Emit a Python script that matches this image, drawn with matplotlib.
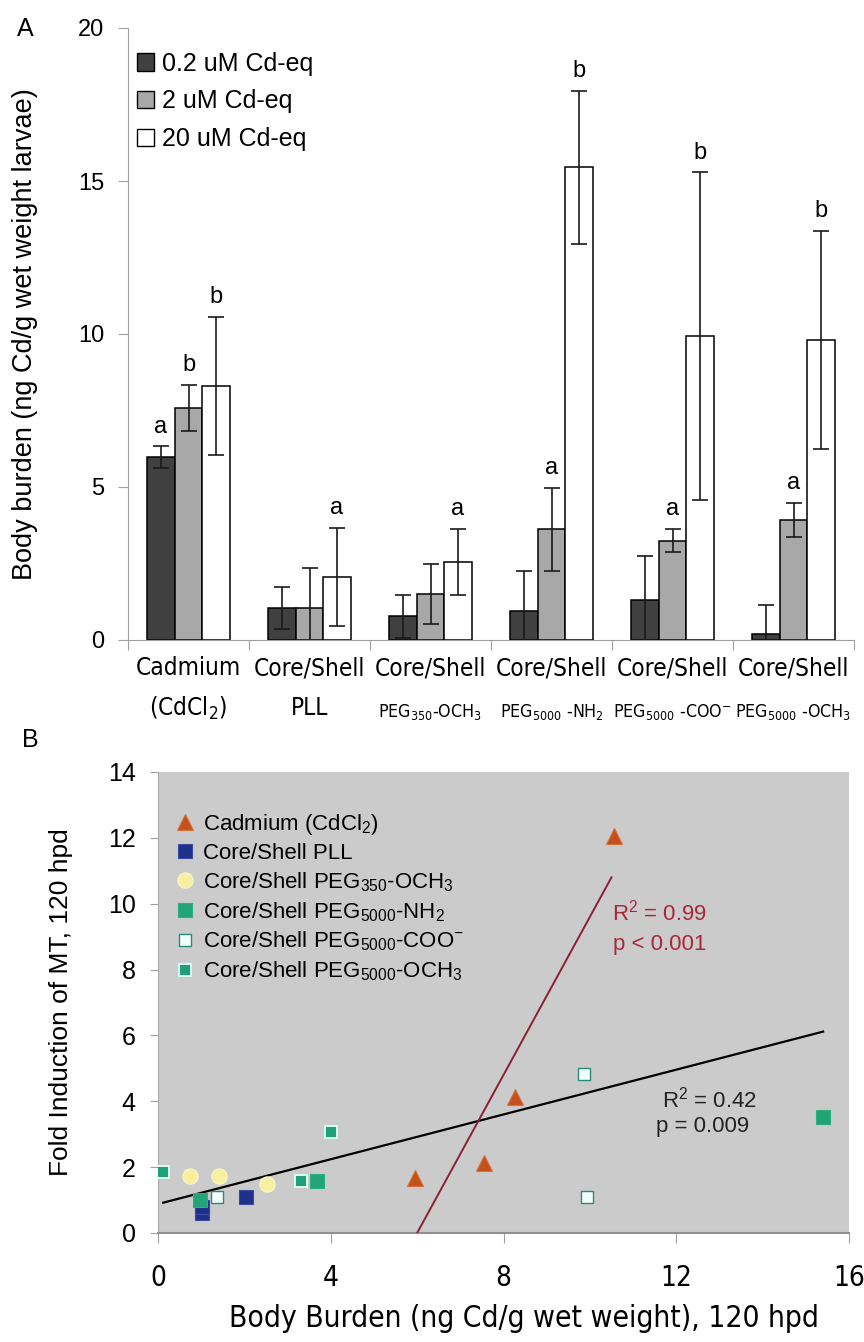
import numpy as np
import matplotlib
matplotlib.use('Agg')
import matplotlib.pyplot as plt
from matplotlib import font_manager, transforms
from matplotlib.patches import Patch

names = {f.name for f in font_manager.fontManager.ttflist}
main_font = 'Liberation Sans' if 'Liberation Sans' in names else 'DejaVu Sans'

# look for any condensed/narrow upright regular face
cond_file = None
for f in font_manager.fontManager.ttflist:
    tag = (f.name + ' ' + str(f.fname)).lower()
    if (f.stretch in ('condensed', 'semi-condensed', 'extra-condensed') or 'narrow' in tag
            or 'condensed' in tag) and f.style == 'normal' and f.weight in (400, 'normal', 'regular'):
        cond_file = f.fname
        break

plt.rcParams['font.family'] = [main_font, 'DejaVu Sans']
plt.rcParams['mathtext.default'] = 'regular'

def narrow_fp(size):
    if cond_file:
        return font_manager.FontProperties(fname=cond_file, size=size)
    return font_manager.FontProperties(family=main_font, size=size * 0.92)

# ---- panel A data ----
groups_l1 = ['Cadmium', 'Core/Shell', 'Core/Shell', 'Core/Shell', 'Core/Shell', 'Core/Shell']
groups_l2 = ['(CdCl$_2$)', 'PLL', 'PEG$_{350}$-OCH$_3$', 'PEG$_{5000}$ -NH$_2$',
             'PEG$_{5000}$ -COO$^{-}$', 'PEG$_{5000}$ -OCH$_3$']
dose_labels = ['0.2 uM Cd-eq', '2 uM Cd-eq', '20 uM Cd-eq']
low_vals = [5.98, 1.05, 0.78, 0.95, 1.3, 0.18]
low_err = [0.35, 0.69, 0.7, 1.3, 1.45, 0.95]
mid_vals = [7.58, 1.05, 1.5, 3.62, 3.24, 3.92]
mid_err = [0.75, 1.3, 0.98, 1.35, 0.38, 0.55]
high_vals = [8.3, 2.06, 2.55, 15.45, 9.93, 9.8]
high_err = [2.27, 1.6, 1.07, 2.5, 5.35, 3.57]
low_letters = ['a', '', '', '', '', '']
mid_letters = ['b', '', '', 'a', 'a', 'a']
high_letters = ['b', 'a', 'a', 'b', 'b', 'b']

# ---- panel B data ----
cd_x = [5.95, 7.55, 8.26, 10.55]
cd_y = [1.66, 2.14, 4.12, 12.05]
pll_x = [1.02, 1.02, 2.04]
pll_y = [0.62, 0.78, 1.1]
p350_x = [0.74, 1.42, 2.52]
p350_y = [1.74, 1.74, 1.5]
nh2_x = [0.97, 3.69, 15.39]
nh2_y = [1.0, 1.59, 3.52]
coo_x = [1.36, 9.86, 9.94]
coo_y = [1.1, 4.82, 1.1]
och3_x = [0.11, 3.32, 4.0]
och3_y = [1.84, 1.59, 3.06]
all_fit = (0.34, 0.88, 0.12, 15.4)    # slope, intercept, x start, x end
cd_fit = (2.4, -14.4, 6.0, 10.5)

W, H = 864, 1342
fig = plt.figure(figsize=(W / 100, H / 100), dpi=100)

def fy(px):
    return 1 - px / H

axA = fig.add_axes([128 / W, fy(640), 726 / W, (640 - 28) / H])
x = np.arange(len(groups_l1))
bw = 0.227
colors = ['#404040', '#a8a8a8', 'white']
series = [(low_vals, low_err, low_letters), (mid_vals, mid_err, mid_letters),
          (high_vals, high_err, high_letters)]
for i, (vals, errs, letters) in enumerate(series):
    xs = x + (i - 1) * bw
    axA.bar(xs, vals, bw, color=colors[i], edgecolor='black', linewidth=1.1,
            label=dose_labels[i], zorder=2)
    axA.errorbar(xs, vals, yerr=errs, fmt='none', ecolor='#1a1a1a', elinewidth=1.2,
                 capsize=5.5, capthick=1.2, zorder=3)
    for xi, v, e, t in zip(xs, vals, errs, letters):
        if t:
            axA.text(xi, v + e + 0.45, t, ha='center', va='baseline', fontsize=17)

axA.set_xlim(-0.5, 5.5)
axA.set_ylim(0, 20)
axA.set_yticks([0, 5, 10, 15, 20])
axA.set_xticks(np.arange(-0.5, 6, 1))
axA.set_xticklabels([])
for s in ['top', 'right']:
    axA.spines[s].set_visible(False)
for s in ['left', 'bottom']:
    axA.spines[s].set_color('#a0a0a0')
axA.tick_params(axis='y', length=7, color='#a0a0a0', labelsize=17, pad=10)
axA.tick_params(axis='x', length=7, color='#a0a0a0')
axA.set_ylabel('Body burden (ng Cd/g wet weight larvae)', fontsize=19.5)
axA.yaxis.set_label_coords((38 - 128) / 726, 0.5)

handles = [Patch(facecolor=c, edgecolor='black', linewidth=1) for c in colors]
axA.legend(handles, dose_labels, loc='upper left', bbox_to_anchor=(-0.012, 0.99),
           frameon=False, fontsize=18, handlelength=0.7, handleheight=0.7,
           handletextpad=0.3, labelspacing=0.55, borderaxespad=0.3)

blend = transforms.blended_transform_factory(axA.transData, fig.transFigure)
for xi, l1, l2 in zip(x, groups_l1, groups_l2):
    fig.text(xi, fy(668), l1, transform=blend, ha='center', va='center',
             fontproperties=narrow_fp(17.5))
    small = l2.startswith('PEG')
    fig.text(xi, fy(712 if small else 708), l2, transform=blend, ha='center', va='center',
             fontproperties=narrow_fp(12.8 if small else 17.5))

fig.text(25 / W, fy(29), 'A', ha='center', va='center', fontsize=18)
fig.text(30 / W, fy(740), 'B', ha='center', va='center', fontsize=18)

# ---- panel B ----
axB = fig.add_axes([158 / W, fy(1233), 691 / W, (1233 - 772) / H])
axB.set_facecolor('#cbcbcb')
axB.plot(cd_x, cd_y, '^', ms=12, color='#c4501c', mec='#d8703a', mew=0.8,
         label='Cadmium (CdCl$_2$)', zorder=4)
axB.plot(pll_x, pll_y, 's', ms=10, color='#1f2f8c', mec='#3a4aa0', mew=0.8,
         label='Core/Shell PLL', zorder=4)
axB.plot(p350_x, p350_y, 'o', ms=11, color='#f8f0a0', mec='#fbf6c8', mew=0.8,
         label='Core/Shell PEG$_{350}$-OCH$_3$', zorder=4)
axB.plot(nh2_x, nh2_y, 's', ms=10, color='#22a378', mec='#2bb080', mew=0.8,
         label='Core/Shell PEG$_{5000}$-NH$_2$', zorder=4)
axB.plot(coo_x, coo_y, 's', ms=9, color='#f2fffc', mec='#2a8c78', mew=1.0,
         label='Core/Shell PEG$_{5000}$-COO$^{-}$', zorder=4)
axB.plot(och3_x, och3_y, 's', ms=9, color='#20a07a', mec='#d8fff4', mew=1.4,
         label='Core/Shell PEG$_{5000}$-OCH$_3$', zorder=4)

xa = np.array(all_fit[2:])
axB.plot(xa, all_fit[0] * xa + all_fit[1], color='black', lw=1.6, zorder=3)
xc = np.array(cd_fit[2:])
axB.plot(xc, cd_fit[0] * xc + cd_fit[1], color='#8c1f35', lw=1.4, zorder=3)

axB.text(11.62, 9.72, 'R$^2$ = 0.99', color='#a8283a', fontsize=16, ha='center', va='center')
axB.text(11.62, 8.75, 'p < 0.001', color='#a8283a', fontsize=16, ha='center', va='center')
axB.text(12.78, 4.04, 'R$^2$ = 0.42', color='#222222', fontsize=16, ha='center', va='center')
axB.text(12.6, 3.22, 'p = 0.009', color='#222222', fontsize=16, ha='center', va='center')

axB.set_xlim(0, 16)
axB.set_ylim(0, 14)
axB.set_xticks([0, 4, 8, 12, 16])
axB.set_yticks(np.arange(0, 15, 2))
for s in ['top', 'right']:
    axB.spines[s].set_visible(False)
axB.spines['left'].set_color('#a8a8a8')
axB.spines['bottom'].set_color('#909090')
axB.spines['bottom'].set_linewidth(1.5)
axB.tick_params(axis='y', length=6, color='#a0a0a0', labelsize=18, pad=10)
axB.tick_params(axis='x', length=7, color='#a0a0a0', pad=15)
for lab in axB.get_xticklabels():
    lab.set_fontproperties(narrow_fp(20))
axB.set_ylabel('Fold Induction of MT, 120 hpd', fontsize=19)
axB.yaxis.set_label_coords((73 - 158) / 691, 0.5)
axB.set_xlabel('Body Burden (ng Cd/g wet weight), 120 hpd', labelpad=9,
               fontproperties=narrow_fp(21.5))
axB.xaxis.label.set_x(0.53)

axB.legend(loc='upper left', bbox_to_anchor=(0.012, 0.938), frameon=False, fontsize=16,
           handlelength=0.7, handletextpad=0.45, labelspacing=0.28, borderaxespad=0.3,
           borderpad=0.2)

fig.savefig('out.png', dpi=100)
